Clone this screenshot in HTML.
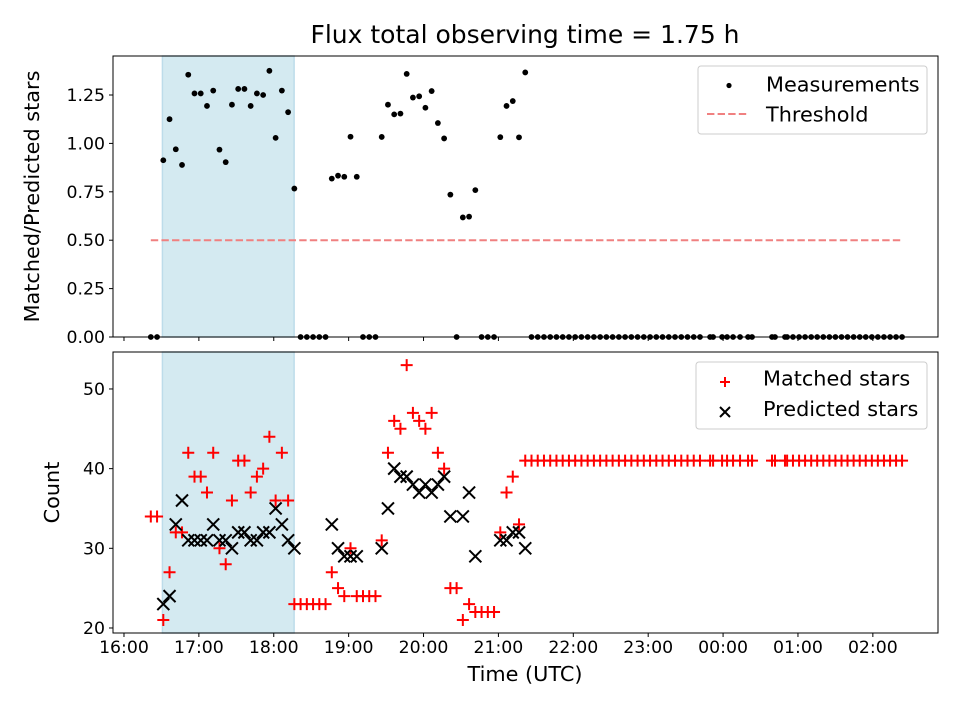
<!DOCTYPE html>
<html><head><meta charset="utf-8"><style>
body{margin:0;background:#fff;}
svg text{font-family:"DejaVu Sans","Liberation Sans",sans-serif;fill:#000;}
</style></head><body>
<svg id="chart" width="960" height="720" viewBox="0 0 960 720" xmlns="http://www.w3.org/2000/svg"></svg>
<script>
const times=[21.5,26.5,31.5,36.5,41.5,46.5,51.5,56.5,61.5,66.5,71.5,76.5,81.5,86.5,91.5,96.5,101.5,106.5,111.5,116.5,121.5,126.5,131.5,136.5,141.5,146.5,151.5,156.5,161.5,166.5,171.5,176.5,181.5,186.5,191.5,196.5,201.5,206.5,211.5,216.5,221.5,226.5,231.5,236.5,241.5,246.5,251.5,256.5,261.5,266.5,271.5,276.5,281.5,286.5,291.5,296.5,301.5,306.5,311.5,316.5,321.5,326.5,331.5,336.5,341.5,346.5,351.5,356.5,361.5,366.5,371.5,376.5,381.5,386.5,391.5,396.5,401.5,406.5,411.5,416.5,421.5,426.5,431.5,436.5,441.5,446.5,451.5,456.5,461.5,469.6,472,479.2,483.2,488,493.6,500,503.2,519.2,521.6,529.6,531.3,536,540.9,545.7,550.6,555.4,560.3,565.2,570,574.9,579.7,584.6,589.5,594.3,599.2,604,608.9,613.8,618.6,623.4];
const matchedHead=[34,34,21,27,32,32,42,39,39,37,42,30,28,36,41,41,37,39,40,44,36,42,36,23,23,23,23,23,23,27,25,24,30,24,24,24,24,31,42,46,45,53,47,46,45,47,42,40,25,25,21,23,22,22,22,22,32,37,39,33,41];
const tailMatched=41;
const predictedHead=[null,null,23,24,33,36,31,31,31,31,33,31,31,30,32,32,31,31,32,32,35,33,31,30,null,null,null,null,null,33,30,29,29,29,null,null,null,30,35,40,39,39,38,37,38,37,38,39,34,null,34,37,29,null,null,null,31,31,32,32,30];
const xTickLabels=["16:00","17:00","18:00","19:00","20:00","21:00","22:00","23:00","00:00","01:00","02:00"];
const topTicks=[0,0.25,0.5,0.75,1.0,1.25];
const botTicks=[20,30,40,50];
const spanStart=30.8, spanEnd=136.3, threshold=0.5;

const matched=times.map((t,i)=>i<matchedHead.length?matchedHead[i]:tailMatched);
const predicted=times.map((t,i)=>i<predictedHead.length?predictedHead[i]:null);
const ratio=times.map((t,i)=>predicted[i]?matched[i]/predicted[i]:0);

const NS="http://www.w3.org/2000/svg";
const svg=document.getElementById('chart');
function el(tag,attrs,parent){const e=document.createElementNS(NS,tag);for(const k in attrs)e.setAttribute(k,attrs[k]);(parent||svg).appendChild(e);return e;}
const L=113,R=938;
const xMin=-8.8,xMax=652.2;
const X=m=>L+(m-xMin)/(xMax-xMin)*(R-L);
const T1=56,B1=337,T2=352,B2=633;
const Y1=v=>B1-v/1.4515*(B1-T1);
const Y2=v=>B2-(v-19.37)/(54.64-19.37)*(B2-T2);
const TF=17.3, LF=20.8;

[[T1,B1],[T2,B2]].forEach((p,k)=>{
  const r=el('rect',{x:X(spanStart),y:p[0],width:X(spanEnd)-X(spanStart),height:p[1]-p[0],fill:'#d4eaf1',stroke:'#bddcea','stroke-width':1.5});
  
  
});
const th=el('line',{x1:X(times[0]),x2:X(times[times.length-1]),y1:Y1(threshold),y2:Y1(threshold),stroke:'#f08080','stroke-width':2,'stroke-dasharray':'7.4,3.2'});


times.forEach((t,i)=>{
  const c=el('circle',{cx:X(t),cy:Y1(ratio[i]),r:2.9,fill:'#000'});
  
  
});
times.forEach((t,i)=>{
  const x=X(t),y=Y2(matched[i]);
  const p=el('path',{d:`M${x-6},${y}H${x+6}M${x},${y-6}V${y+6}`,stroke:'#ff0000','stroke-width':2,fill:'none'});
  
  
});
times.forEach((t,i)=>{
  if(predicted[i]==null)return;
  const x=X(t),y=Y2(predicted[i]);
  const p=el('path',{d:`M${x-6},${y-6}L${x+6},${y+6}M${x-6},${y+6}L${x+6},${y-6}`,stroke:'#000','stroke-width':2,fill:'none'});
  
  
});
[[T1,B1],[T2,B2]].forEach((p,k)=>{
  const r=el('rect',{x:L,y:p[0],width:R-L,height:p[1]-p[0],fill:'none',stroke:'#000','stroke-width':1});
  
  
});
xTickLabels.forEach((lab,k)=>{
  const x=X(k*60);
  el('line',{x1:x,x2:x,y1:B1,y2:B1+4,stroke:'#000'});
  el('line',{x1:x,x2:x,y1:B2,y2:B2+4,stroke:'#000'});
  const tx=el('text',{x:x,y:653,'font-size':TF,'text-anchor':'middle'});
  tx.textContent=lab;
  
  
});
topTicks.forEach(v=>{
  const y=Y1(v);
  el('line',{x1:L-4,x2:L,y1:y,y2:y,stroke:'#000'});
  const tx=el('text',{x:L-8,y:y+6,'font-size':TF,'text-anchor':'end'});
  tx.textContent=v.toFixed(2);
  
  
});
botTicks.forEach(v=>{
  const y=Y2(v);
  el('line',{x1:L-4,x2:L,y1:y,y2:y,stroke:'#000'});
  const tx=el('text',{x:L-8,y:y+6,'font-size':TF,'text-anchor':'end'});
  tx.textContent=v;
  
  
});
let t=el('text',{x:525,y:43,'font-size':25,'text-anchor':'middle'});t.textContent='Flux total observing time = 1.75 h';


t=el('text',{x:0,y:0,'font-size':LF,'text-anchor':'middle',transform:`translate(39,${(T1+B1)/2}) rotate(-90)`});t.textContent='Matched/Predicted stars';


t=el('text',{x:0,y:0,'font-size':LF,'text-anchor':'middle',transform:`translate(59,${(T2+B2)/2}) rotate(-90)`});t.textContent='Count';


t=el('text',{x:525,y:681,'font-size':LF,'text-anchor':'middle'});t.textContent='Time (UTC)';


function legend(x,y,w,h,name){const g=el('g',{});
  el('rect',{x:x,y:y,width:w,height:h,rx:3,fill:'#fff','fill-opacity':0.85,stroke:'#ccc'},g);return g;}
let g=legend(698,66,229,68,'top-legend');
el('circle',{cx:729,cy:85.5,r:2.6,fill:'#000'},g);
t=el('text',{x:766,y:91.5,'font-size':LF},g);t.textContent='Measurements';


el('line',{x1:707,x2:748,y1:114,y2:114,stroke:'#f08080','stroke-width':2,'stroke-dasharray':'7.4,3.2'},g);
t=el('text',{x:766,y:121.5,'font-size':LF},g);t.textContent='Threshold';


g=legend(696,362,231,67,'bottom-legend');
el('path',{d:'M720,382H730M725,377V387',stroke:'#ff0000','stroke-width':2},g);
t=el('text',{x:763,y:385.5,'font-size':LF},g);t.textContent='Matched stars';


el('path',{d:'M720,407L730,417M720,417L730,407',stroke:'#000','stroke-width':2},g);
t=el('text',{x:763,y:416,'font-size':LF},g);t.textContent='Predicted stars';


</script>
</body></html>
